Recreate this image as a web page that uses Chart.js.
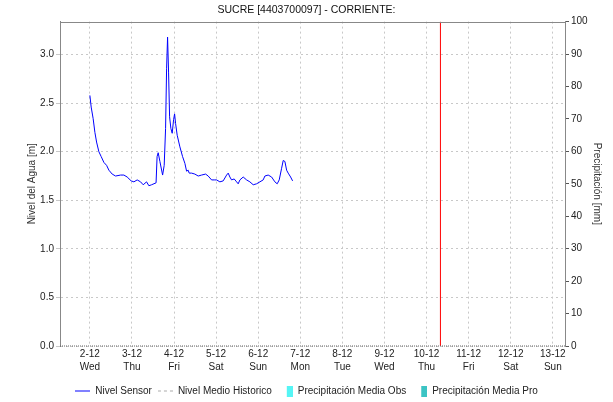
<!DOCTYPE html>
<html>
<head>
<meta charset="utf-8">
<script src="https://cdn.jsdelivr.net/npm/chart.js@4/dist/chart.umd.min.js"></script>
<style>
  html, body { margin: 0; padding: 0; background: #fff; }
</style>
</head>
<body>
<canvas id="grafico" width="613" height="402"></canvas>
<script>
// Días (diciembre) con etiqueta en el eje X
const diasTick = [2, 3, 4, 5, 6, 7, 8, 9, 10, 11, 12, 13];
const etiquetasFecha = ['2-12','3-12','4-12','5-12','6-12','7-12','8-12','9-12','10-12','11-12','12-12','13-12'];
const etiquetasDia = ['Wed','Thu','Fri','Sat','Sun','Mon','Tue','Wed','Thu','Fri','Sat','Sun'];
const nivelTicks = [0, 0.5, 1.0, 1.5, 2.0, 2.5, 3.0];

// Nivel sensor: día decimal de diciembre y nivel [m]
const sensorDia = [2.000, 2.031, 2.078, 2.119, 2.159, 2.214, 2.269, 2.333, 2.397, 2.452,
  2.530, 2.611, 2.730, 2.808, 2.886, 2.981, 3.046, 3.124, 3.205, 3.267,
  3.347, 3.402, 3.466, 3.573, 3.597, 3.623, 3.664, 3.728, 3.766, 3.799,
  3.823, 3.846, 3.870, 3.894, 3.925, 3.956, 3.989, 4.013, 4.037, 4.075,
  4.139, 4.203, 4.258, 4.298, 4.336, 4.360, 4.417, 4.495, 4.574, 4.654,
  4.750, 4.811, 4.892, 4.954, 5.011, 5.089, 5.168, 5.249, 5.287, 5.327,
  5.367, 5.429, 5.486, 5.524, 5.565, 5.643, 5.724, 5.802, 5.881, 5.961,
  6.040, 6.118, 6.159, 6.237, 6.318, 6.396, 6.451, 6.499, 6.556, 6.594,
  6.634, 6.675, 6.712, 6.770, 6.817];
const sensorNivel = [2.58, 2.46, 2.34, 2.20, 2.10, 2.00, 1.95, 1.89, 1.86, 1.81,
  1.77, 1.75, 1.76, 1.76, 1.74, 1.70, 1.69, 1.71, 1.69, 1.66,
  1.69, 1.65, 1.66, 1.68, 1.95, 1.99, 1.90, 1.76, 1.86, 2.24,
  2.86, 3.18, 2.82, 2.36, 2.24, 2.19, 2.33, 2.39, 2.29, 2.17,
  2.05, 1.95, 1.88, 1.80, 1.81, 1.78, 1.78, 1.77, 1.75, 1.76,
  1.77, 1.75, 1.71, 1.71, 1.71, 1.69, 1.70, 1.76, 1.78, 1.74,
  1.71, 1.72, 1.69, 1.67, 1.71, 1.74, 1.71, 1.69, 1.66, 1.67,
  1.69, 1.71, 1.75, 1.76, 1.74, 1.69, 1.67, 1.71, 1.83, 1.91,
  1.90, 1.81, 1.78, 1.74, 1.70];

// Nivel medio histórico (sin datos, en cero)
const historicoDia = [1.29, 13.29];
const historicoNivel = [0, 0];

// Precipitación (sin datos)
const precipObs = [];
const precipPro = [];

// Hora actual (línea roja)
const ahoraDia = [10.33, 10.33];
const ahoraNivel = [0, 3.34];

const xMin = 1.29, xMax = 13.29;
const nivelMax = 3.34, precipMax = 100;

Chart.defaults.font.family = "'Liberation Sans', Arial, sans-serif";
Chart.defaults.font.size = 10;
Chart.defaults.color = '#222';

function pares(xs, ys) {
  return xs.map((x, i) => ({ x: x, y: ys[i] }));
}

function iconoLinea(color, dash) {
  const c = document.createElement('canvas');
  c.width = 15; c.height = 5;
  const g = c.getContext('2d');
  g.strokeStyle = color; g.lineWidth = 1; g.setLineDash(dash);
  g.beginPath(); g.moveTo(0, 2.5); g.lineTo(15, 2.5); g.stroke();
  return c;
}
function iconoCaja(color) {
  const c = document.createElement('canvas');
  c.width = 15; c.height = 11;
  const g = c.getContext('2d');
  g.fillStyle = color; g.fillRect(9, 0, 6, 11);
  return c;
}
const iconos = [
  iconoLinea('#0000ff', []),
  iconoLinea('#aaaaaa', [3, 3]),
  iconoCaja('#55f5f5'),
  iconoCaja('#3cc4c4')
];

// marco superior del área de dibujo
const marco = {
  id: 'marco',
  afterDraw(chart) {
    const a = chart.chartArea, ctx = chart.ctx;
    ctx.save();
    ctx.strokeStyle = '#888';
    ctx.lineWidth = 1;
    ctx.beginPath();
    ctx.moveTo(a.left, Math.round(a.top) + 0.5);
    ctx.lineTo(a.right, Math.round(a.top) + 0.5);
    ctx.stroke();
    ctx.restore();
  }
};

new Chart(document.getElementById('grafico'), {
  data: {
    datasets: [
      {
        type: 'line',
        label: 'Nivel Sensor',
        data: pares(sensorDia, sensorNivel),
        borderColor: '#0000ff',
        borderWidth: 1,
        pointRadius: 0,
        tension: 0,
        yAxisID: 'y'
      },
      {
        type: 'line',
        label: 'Nivel Medio Historico',
        data: pares(historicoDia, historicoNivel),
        borderColor: '#666',
        borderWidth: 1,
        borderDash: [1, 1],
        pointRadius: 0,
        clip: 2,
        yAxisID: 'y'
      },
      {
        type: 'bar',
        label: 'Precipitación Media Obs',
        data: precipObs,
        backgroundColor: '#55f5f5',
        yAxisID: 'y2'
      },
      {
        type: 'bar',
        label: 'Precipitación Media Pro',
        data: precipPro,
        backgroundColor: '#3cc4c4',
        yAxisID: 'y2'
      },
      {
        type: 'line',
        label: 'ahora',
        data: pares(ahoraDia, ahoraNivel),
        borderColor: '#ff0000',
        borderWidth: 1,
        pointRadius: 0,
        yAxisID: 'y'
      }
    ]
  },
  options: {
    responsive: false,
    animation: false,
    layout: { padding: { top: 0, left: 0, right: 0, bottom: -4 } },
    plugins: {
      title: {
        display: true,
        text: 'SUCRE [4403700097] - CORRIENTE:',
        color: '#111',
        font: { size: 10.5, weight: 'normal' },
        padding: { top: 4, bottom: 5 }
      },
      legend: {
        position: 'bottom',
        labels: {
          usePointStyle: true,
          pointStyleWidth: 15,
          padding: 6,
          color: '#222',
          filter: (item) => item.datasetIndex < 4,
          generateLabels(chart) {
            const base = Chart.defaults.plugins.legend.labels.generateLabels(chart);
            return base.map((it) => Object.assign(it, { pointStyle: iconos[it.datasetIndex] }));
          }
        }
      },
      tooltip: { enabled: false }
    },
    scales: {
      x: {
        type: 'linear',
        min: xMin,
        max: xMax,
        offset: false,
        afterBuildTicks(axis) {
          axis.ticks = diasTick.map((v) => ({ value: v }));
        },
        afterFit(axis) { axis.height = 34; },
        ticks: {
          autoSkip: false,
          maxRotation: 0,
          padding: 2,
          color: '#222',
          font: { lineHeight: 1.3 },
          callback(value) {
            const i = diasTick.indexOf(value);
            return [etiquetasFecha[i], etiquetasDia[i]];
          }
        },
        grid: { color: '#c8c8c8', drawTicks: false, offset: false },
        border: { display: false, dash: [2, 3] }
      },
      y: {
        position: 'left',
        min: 0,
        max: nivelMax,
        afterBuildTicks(axis) {
          axis.ticks = nivelTicks.map((v) => ({ value: v }));
        },
        afterFit(axis) { axis.width = 60; },
        ticks: {
          padding: 2,
          color: '#222',
          callback: (v) => v.toFixed(1)
        },
        grid: { color: '#c8c8c8', tickLength: 4 },
        border: { color: '#888', dash: [2, 3] },
        title: { display: true, text: 'Nivel del Agua [m]', color: '#333', padding: { top: 26, bottom: 0 } }
      },
      y2: {
        position: 'right',
        min: 0,
        max: precipMax,
        afterFit(axis) { axis.width = 48; },
        ticks: { stepSize: 10, padding: 2, color: '#222' },
        grid: { drawOnChartArea: false, color: '#555', tickLength: 4 },
        border: { color: '#888' },
        title: { display: true, text: 'Precipitación [mm]', color: '#333', padding: { top: 10, bottom: 0 } }
      }
    }
  },
  plugins: [marco]
});
</script>
</body>
</html>
